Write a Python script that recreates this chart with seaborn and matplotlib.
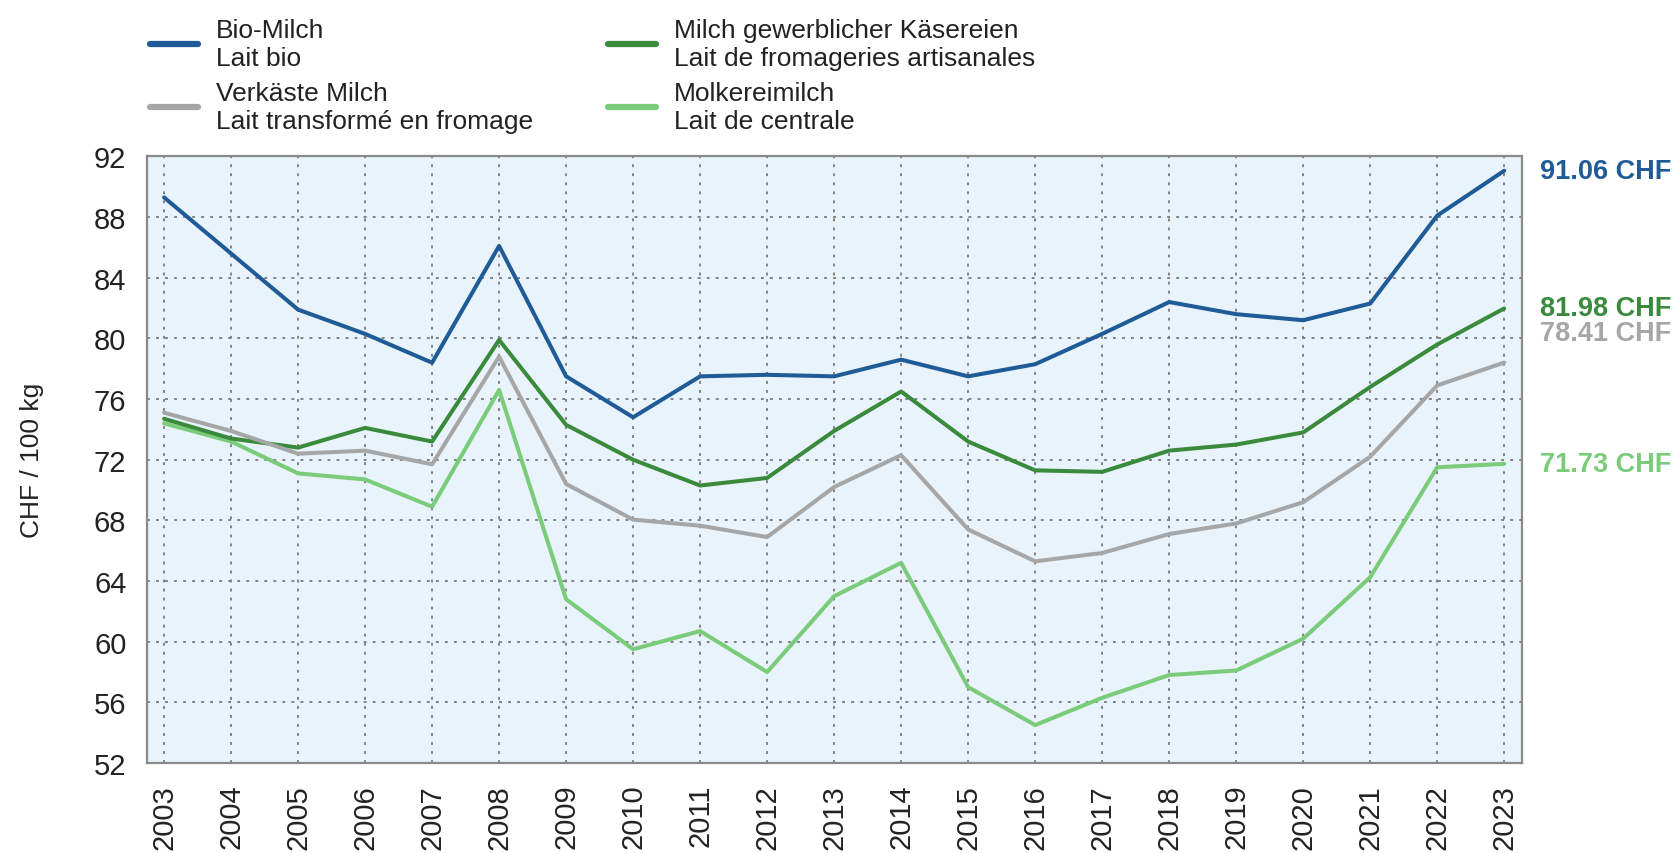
import matplotlib
matplotlib.use("Agg")
import matplotlib.pyplot as plt
import seaborn as sns
import pandas as pd

# ---------------- data ----------------
years = list(range(2003, 2024))
bio = [89.3, 85.6, 81.9, 80.3, 78.4, 86.1, 77.5, 74.8, 77.5, 77.6, 77.5,
       78.6, 77.5, 78.3, 80.3, 82.4, 81.6, 81.2, 82.3, 88.1, 91.06]
kaeserei = [74.7, 73.4, 72.8, 74.1, 73.2, 79.9, 74.3, 72.0, 70.3, 70.8, 73.9,
            76.5, 73.2, 71.3, 71.2, 72.6, 73.0, 73.8, 76.8, 79.6, 81.98]
verkaest = [75.1, 73.9, 72.4, 72.6, 71.7, 78.8, 70.4, 68.05, 67.65, 66.9, 70.2,
            72.3, 67.4, 65.3, 65.85, 67.1, 67.8, 69.2, 72.2, 76.9, 78.41]
molkerei = [74.4, 73.2, 71.1, 70.7, 68.9, 76.6, 62.8, 59.5, 60.7, 58.0, 63.0,
            65.2, 57.0, 54.5, 56.3, 57.8, 58.1, 60.2, 64.25, 71.5, 71.73]

series_names = ["Bio-Milch\nLait bio",
                "Verkäste Milch\nLait transformé en fromage",
                "Milch gewerblicher Käsereien\nLait de fromageries artisanales",
                "Molkereimilch\nLait de centrale"]
series_values = [bio, verkaest, kaeserei, molkerei]
end_labels = ["91.06 CHF", "78.41 CHF", "81.98 CHF", "71.73 CHF"]
y_ticks = list(range(52, 93, 4))
y_label = "CHF / 100 kg"

# ---------------- style ----------------
colors = ["#1f5b96", "#a6a6a6", "#3a8a3c", "#7acb7a"]
label_offsets_pt = [0, 21, 0, 0]
face = "#e8f3fb"
axis_grey = "#8a8a8a"

rows = []
for name, vals in zip(series_names, series_values):
    for yr, v in zip(years, vals):
        rows.append({"year": yr, "value": v, "series": name})
df = pd.DataFrame(rows)

sns.set_style("white")
plt.rcParams["font.family"] = ["Liberation Sans", "DejaVu Sans"]

fig = plt.figure(figsize=(16.76, 8.54), dpi=100)
ax = fig.add_axes([0.0879, 0.1054, 0.9079 - 0.0879, 0.8156 - 0.1054])
ax.set_facecolor(face)

draw_order = [3, 1, 2, 0]
for i in draw_order:
    sub = df[df["series"] == series_names[i]]
    sns.lineplot(data=sub, x="year", y="value", ax=ax, color=colors[i],
                 linewidth=2.9, label=series_names[i], legend=False,
                 zorder=3 + (4 - i) * 0.1)

ax.set_xlim(2002.75, 2023.26)
ax.set_ylim(52, 92)
ax.set_xticks(years)
ax.set_xticklabels([str(y) for y in years], rotation=90)
ax.set_yticks(y_ticks)
ax.set_xlabel("")
ax.set_ylabel(y_label, fontsize=19, color="#222222")
ax.yaxis.set_label_coords(-0.075, 0.5)

ax.tick_params(axis="both", which="major", labelsize=21, length=12,
               width=1.6, color=axis_grey, direction="out", pad=3,
               labelcolor="#222222")
for s in ax.spines.values():
    s.set_visible(True)
    s.set_color(axis_grey)
    s.set_linewidth(1.6)

ax.grid(True, which="major", color="#7a7a7a", linestyle=(0, (1.6, 3.4)),
        linewidth=1.3)
ax.set_axisbelow(True)

# end labels
for i in range(4):
    ax.annotate(end_labels[i], xy=(1.0133, series_values[i][-1]),
                xycoords=("axes fraction", "data"),
                xytext=(0, label_offsets_pt[i]), textcoords="offset points",
                ha="left", va="center", fontsize=19.5, fontweight="bold",
                color=colors[i], annotation_clip=False)

# legend
handles = []
for i in range(4):
    h, = ax.plot([], [], color=colors[i], linewidth=4.5)
    handles.append(h)
leg = fig.legend(handles, series_names, loc="upper left",
                 bbox_to_anchor=(150 / 1676, 1 - 19 / 854), ncol=2,
                 frameon=False, fontsize=19, handlelength=1.8,
                 handletextpad=0.7, columnspacing=2.85, labelspacing=0.42,
                 borderpad=0, borderaxespad=0)
for t in leg.get_texts():
    t.set_linespacing(1.2)
    t.set_color("#222222")

fig.savefig("out.png", dpi=100, facecolor="white")
